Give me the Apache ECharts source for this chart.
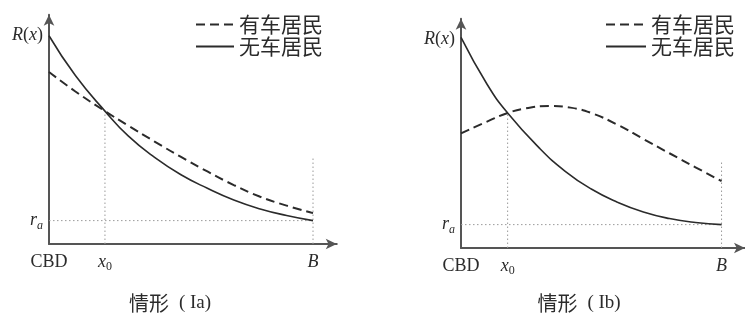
<!DOCTYPE html>
<html>
<head>
<meta charset="utf-8">
<script src="https://cdn.jsdelivr.net/npm/echarts@6/dist/echarts.min.js"></script>
<style>
  html, body { margin: 0; padding: 0; background: #fff; }
  #chart { width: 745px; height: 321px; }
</style>
</head>
<body>
<div id="chart"></div>
<script>
// Bid-rent curves R(x) from the CBD (x = 0) out to the city edge B.
const B = 10;          // city boundary
const RA = 1.0;        // agricultural rent r_a
const B_GUIDE_TOP = 3.76;
const X_MAX = 10.9;
const Y_MAX = 9.8;

// Case Ia
const X0_A = 2.12;
const carA_x   = [0, 1, 2.12, 3, 4, 5, 6, 7, 8, 9, 10];
const carA_y   = [7.35, 6.52, 5.68, 5.06, 4.38, 3.72, 3.10, 2.52, 2.02, 1.64, 1.32];
const noCarA_x = [0, 1, 2.12, 3, 4, 5, 6, 7, 8, 9, 10];
const noCarA_y = [8.9, 7.2, 5.68, 4.62, 3.70, 2.96, 2.38, 1.88, 1.50, 1.22, 1.0];

// Case Ib
const X0_B = 1.79;
const carB_x   = [0, 1, 1.79, 2.5, 3.4, 4.2, 5, 6, 7, 8, 9, 10];
const carB_y   = [4.9, 5.4, 5.77, 5.97, 6.07, 6.0, 5.77, 5.27, 4.66, 4.05, 3.45, 2.86];
const noCarB_x = [0, 1, 1.79, 3, 4, 5, 6, 7, 8, 9, 10];
const noCarB_y = [9.0, 7.0, 5.77, 4.28, 3.28, 2.52, 1.96, 1.54, 1.26, 1.09, 1.0];

const SERIES_NAMES = ['有车居民', '无车居民'];
const X_TICK_LABELS = ['{n|CBD}', '{i|x}{s|0}', '{i|B}'];
const Y_TICK_LABELS = ['{i|r}{si|a}', '{i|R}{n|(}{i|x}{n|)}'];
const PANEL_TITLES = ['情形', '情形'];
const PANEL_TAGS = ['( Ia)', '( Ib)'];

const AXIS_COLOR = '#555';
const INK = '#2b2b2b';
const GUIDE = '#9a9a9a';
const SERIF = '"Liberation Serif", "Times New Roman", serif';
const CJK = '"Noto Sans CJK SC", sans-serif';

const rich = {
  n:  { fontFamily: SERIF, fontSize: 18, color: INK, lineHeight: 22, verticalAlign: 'middle' },
  i:  { fontFamily: SERIF, fontSize: 18, fontStyle: 'italic', color: INK, lineHeight: 22, verticalAlign: 'middle' },
  s:  { fontFamily: SERIF, fontSize: 12, color: INK, verticalAlign: 'bottom' },
  si: { fontFamily: SERIF, fontSize: 12, fontStyle: 'italic', color: INK, verticalAlign: 'bottom' }
};

const zip = (xs, ys) => xs.map((x, k) => [x, ys[k]]);

function xAxisFor(gi, x0) {
  const ticks = [0, x0, B];
  return {
    type: 'value', gridIndex: gi, min: 0, max: X_MAX,
    axisLine: { show: true, lineStyle: { color: AXIS_COLOR, width: 2 },
                symbol: ['none', 'arrow'], symbolSize: [8, 11] },
    axisTick: { show: false },
    splitLine: { show: false },
    axisLabel: {
      customValues: ticks, margin: 7, rich,
      formatter: v => X_TICK_LABELS[ticks.indexOf(v)] || ''
    }
  };
}

function yAxisFor(gi, rTop) {
  const ticks = [RA, rTop];
  return {
    type: 'value', gridIndex: gi, min: 0, max: Y_MAX,
    axisLine: { show: true, lineStyle: { color: AXIS_COLOR, width: 2 },
                symbol: ['none', 'arrow'], symbolSize: [8, 11] },
    axisTick: { show: false },
    splitLine: { show: false },
    axisLabel: {
      customValues: ticks, margin: 6, rich,
      formatter: v => Y_TICK_LABELS[ticks.indexOf(v)] || ''
    }
  };
}

function curve(name, gi, data, dashed) {
  return {
    name, type: 'line', xAxisIndex: gi, yAxisIndex: gi, data,
    smooth: 0.5, symbol: 'none', showSymbol: false, silent: true, z: 5,
    itemStyle: { color: INK },
    lineStyle: dashed
      ? { color: INK, width: 2, type: [9, 5] }
      : { color: INK, width: 1.6, type: 'solid' }
  };
}

function guide(gi, data) {
  return {
    type: 'line', xAxisIndex: gi, yAxisIndex: gi, data,
    symbol: 'none', silent: true, z: 2,
    lineStyle: { color: GUIDE, width: 1, type: [1.5, 2.5] }
  };
}

function guides(gi, x0, yCross) {
  return [
    guide(gi, [[x0, 0], [x0, yCross]]),
    guide(gi, [[B, 0], [B, B_GUIDE_TOP]]),
    guide(gi, [[0, RA], [B, RA]])
  ];
}

function legendAt(left, width) {
  return {
    orient: 'vertical', left, top: 14, padding: 0,
    itemWidth: width, itemHeight: 12, itemGap: 1,
    selectedMode: false,
    data: SERIES_NAMES,
    itemStyle: { opacity: 0 },
    textStyle: { fontFamily: CJK, fontSize: 21, color: INK, lineHeight: 21 }
  };
}

function panelTitle(cx, k) {
  return {
    type: 'text', x: cx, y: 303,
    style: {
      text: '{c|' + PANEL_TITLES[k] + '}{t|' + PANEL_TAGS[k] + '}',
      align: 'center', verticalAlign: 'middle',
      rich: {
        c: { fontFamily: CJK, fontSize: 20, fill: INK },
        t: { fontFamily: SERIF, fontSize: 19, fill: INK, padding: [0, 0, 0, 10] }
      }
    }
  };
}

const chart = echarts.init(document.getElementById('chart'), null, { renderer: 'canvas' });
chart.setOption({
  animation: false,
  backgroundColor: '#fff',
  grid: [
    { left: 49,  top: 14.7, width: X_MAX * 26.4,  height: Y_MAX * 23.4 },
    { left: 461, top: 18.7, width: X_MAX * 26.3,  height: Y_MAX * 23.4 }
  ],
  xAxis: [xAxisFor(0, X0_A), xAxisFor(1, X0_B)],
  yAxis: [yAxisFor(0, noCarA_y[0]), yAxisFor(1, noCarA_y[0])],
  legend: [legendAt(195, 38), legendAt(605, 40)],
  series: [
    curve(SERIES_NAMES[0], 0, zip(carA_x, carA_y), true),
    curve(SERIES_NAMES[1], 0, zip(noCarA_x, noCarA_y), false),
    curve(SERIES_NAMES[0], 1, zip(carB_x, carB_y), true),
    curve(SERIES_NAMES[1], 1, zip(noCarB_x, noCarB_y), false),
    ...guides(0, X0_A, carA_y[carA_x.indexOf(X0_A)]),
    ...guides(1, X0_B, carB_y[carB_x.indexOf(X0_B)])
  ],
  graphic: [panelTitle(170, 0), panelTitle(579, 1)]
});
</script>
</body>
</html>
